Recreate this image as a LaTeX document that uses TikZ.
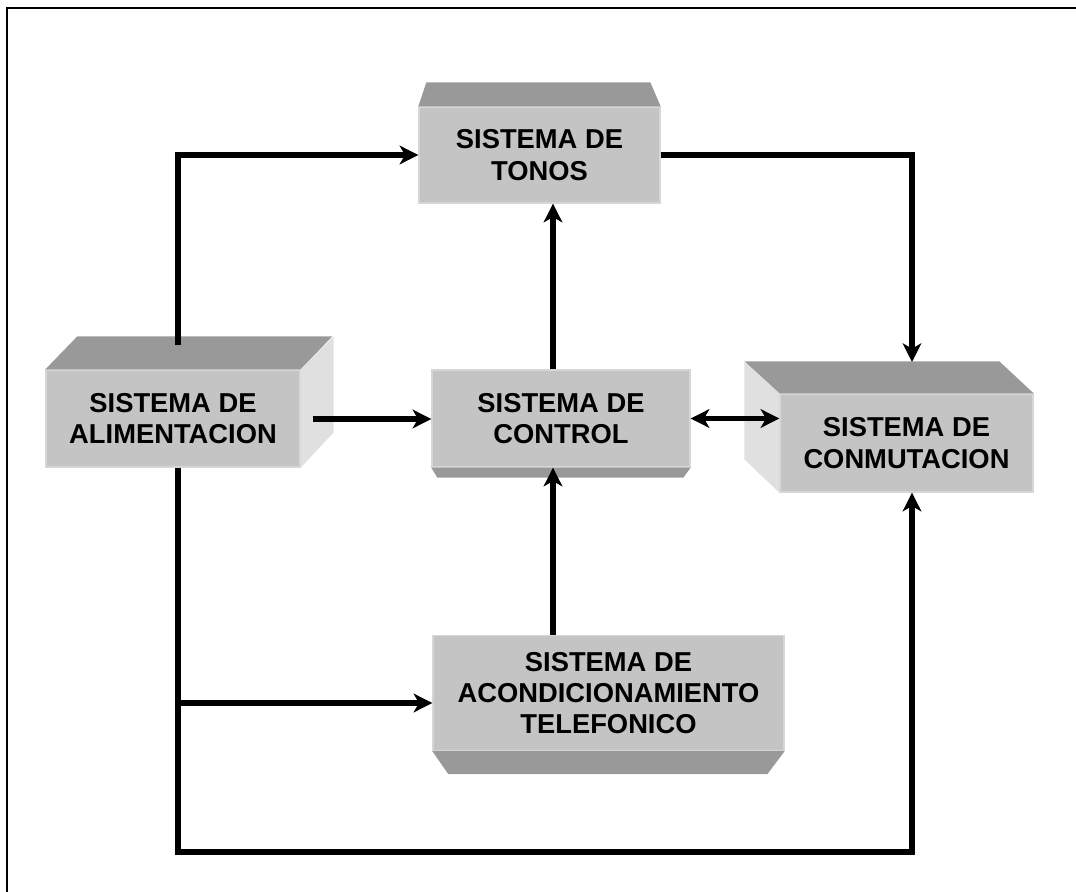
\documentclass[tikz,border=0pt]{standalone}
\usepackage{fontspec}
\setmainfont{Liberation Sans}
\usetikzlibrary{arrows.meta}
\definecolor{boxgray}{RGB}{196,196,196}
\definecolor{topgray}{RGB}{153,153,153}
\definecolor{sidegray}{RGB}{224,224,224}
\definecolor{boxedge}{RGB}{214,214,214}

\begin{document}
\begin{tikzpicture}[x=0.75pt,y=0.75pt,yscale=-1,xscale=1,
  box/.style 2 args={fill=boxgray, draw=boxedge, line width=1pt, inner sep=0pt, align=center,
    font=\bfseries\fontsize{20.5}{23.5}\selectfont, minimum width=#1*0.75pt, minimum height=#2*0.75pt},
  wire/.style={line width=4.2pt},
  flow/.style={wire, -{Stealth[length=14pt,width=14pt,inset=4pt]}},
  flowboth/.style={wire, {Stealth[length=14pt,width=14pt,inset=4pt]}-{Stealth[length=14pt,width=14pt,inset=4pt]}}]
\useasboundingbox (0,0) rectangle (1076,892);

%Frame
\draw[line width=1.5pt] (1076,8) -- (7,8) -- (7,892);

% Front faces
\node[box={241}{96}] (ton) at (539.5,155) {SISTEMA DE\\TONOS};
\node[box={254}{97}] (alim) at (173,418.5) {SISTEMA DE\\ALIMENTACION};
\node[box={258}{97}] (ctl) at (561,418.5) {SISTEMA DE\\CONTROL};
\node[box={253}{98}] (conm) at (906.5,443) {SISTEMA DE\\CONMUTACION};
\node[box={351}{115}] (acond) at (608.5,693) {SISTEMA DE\\ACONDICIONAMIENTO\\TELEFONICO};

% Bevels and side faces
\fill[topgray] (ton.north west) -- ++(8,-24) -- ++(224,0) -- (ton.north east) -- cycle;
\fill[topgray] (alim.north west) -- ++(32,-33) -- ++(255,0) -- (alim.north east) -- cycle;
\fill[sidegray] (alim.north east) -- ++(33,-33) -- ++(0,96) -- (alim.south east) -- cycle;
\fill[topgray] (ctl.south west) -- ++(6,10) -- ++(246,0) -- (ctl.south east) -- cycle;
\fill[topgray] (conm.north west) -- ++(-35,-32) -- ++(255,0) -- (conm.north east) -- cycle;
\fill[sidegray] (conm.north west) -- ++(-35,-32) -- ++(0,98) -- (conm.south west) -- cycle;
\fill[topgray] (acond.south west) -- ++(16,23) -- ++(319,0) -- (acond.south east) -- cycle;

% Route points
\coordinate (upx) at (178,0);
\coordinate (midx) at (553,0);
\coordinate (rx) at (912,0);
\coordinate (low) at (0,852);
\coordinate (tap) at (0,703);
\coordinate (alimtop) at (178,345);
\coordinate (alimside) at (313,419);
\coordinate (conmtop) at (912,362);

% Connectors
\draw[flow] (alimtop) |- (ton.west);
\draw[flow] (ton.east) -| (conmtop);
\draw[flow] (ctl.north -| midx) -- (ton.south -| midx);
\draw[flow] (alimside) -- (alimside -| ctl.west);
\draw[flowboth] (ctl.east) -- (ctl.east -| conm.west);
\draw[flow] (acond.north -| midx) -- (ctl.south -| midx);
\draw[flow] (alim.south -| upx) |- (low -| rx) -- (conm.south -| rx);
\draw[flow] (tap -| upx) -- (acond.west |- tap);

\end{tikzpicture}
\end{document}
